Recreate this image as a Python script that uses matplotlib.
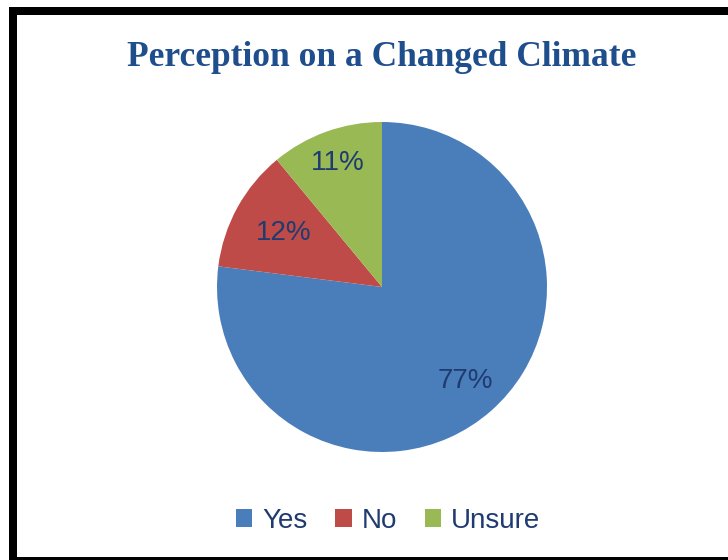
import numpy as np
import matplotlib.pyplot as plt
from matplotlib.lines import Line2D
from matplotlib.patches import Patch

# -------------------------------------------------------------------
# DATA
# -------------------------------------------------------------------
categories = ["Yes", "No", "Unsure"]
shares = [77, 12, 11]
colors = ["#4A7EBB", "#BE4B48", "#98B954"]
label_dist = [0.76, 0.68, 0.80]

title = "Perception on a Changed Climate"
text_color = "#1F3B70"

# -------------------------------------------------------------------
# FIGURE
# -------------------------------------------------------------------
W, H = 728, 560
fig = plt.figure(figsize=(W / 100, H / 100), dpi=100)
fig.patch.set_facecolor("white")

# pie axes: centre ~(382, 287) px, radius ~165 px
cx, cy, r = 382, 287, 165
ax = fig.add_axes([(cx - r) / W, (H - cy - r) / H, 2 * r / W, 2 * r / H])

wedges, _ = ax.pie(shares, colors=colors, startangle=90, counterclock=False,
                   radius=1.0, wedgeprops=dict(linewidth=0))
ax.set_xlim(-1, 1)
ax.set_ylim(-1, 1)
ax.set_aspect("equal")

for w, val, d in zip(wedges, shares, label_dist):
    mid = np.deg2rad((w.theta1 + w.theta2) / 2)
    ax.text(d * np.cos(mid), d * np.sin(mid), f"{val}%",
            ha="center", va="center", fontsize=20, color=text_color,
            family="Liberation Sans")

fig.text(cx / W, 1 - 57 / H, title, ha="center", va="center",
         fontsize=25.5, fontweight="bold", color="#1F4E8C",
         family="Liberation Serif")

handles = [Patch(facecolor=c, edgecolor="none") for c in colors]
fig.legend(handles, categories, loc="center", bbox_to_anchor=(388 / W, 1 - 521 / H),
           ncol=3, frameon=False, handlelength=0.6,
           handleheight=0.6, handletextpad=0.35, columnspacing=1.0,
           labelcolor=text_color, prop={"family": "Liberation Sans", "size": 20})

# black frame (right side is cut off in the original)
def px(x, y):
    return x / W, 1 - y / H

for (x0, y0), (x1, y1), lw in [((9, 11), (W + 5, 11), 8),
                               ((13, 7), (13, H + 5), 8),
                               ((9, 559), (W + 5, 559), 4)]:
    (a, b), (c, d) = px(x0, y0), px(x1, y1)
    fig.add_artist(Line2D([a, c], [b, d], transform=fig.transFigure,
                          color="black", linewidth=lw * 0.72,
                          solid_capstyle="butt"))

fig.savefig("out.png", dpi=100)
